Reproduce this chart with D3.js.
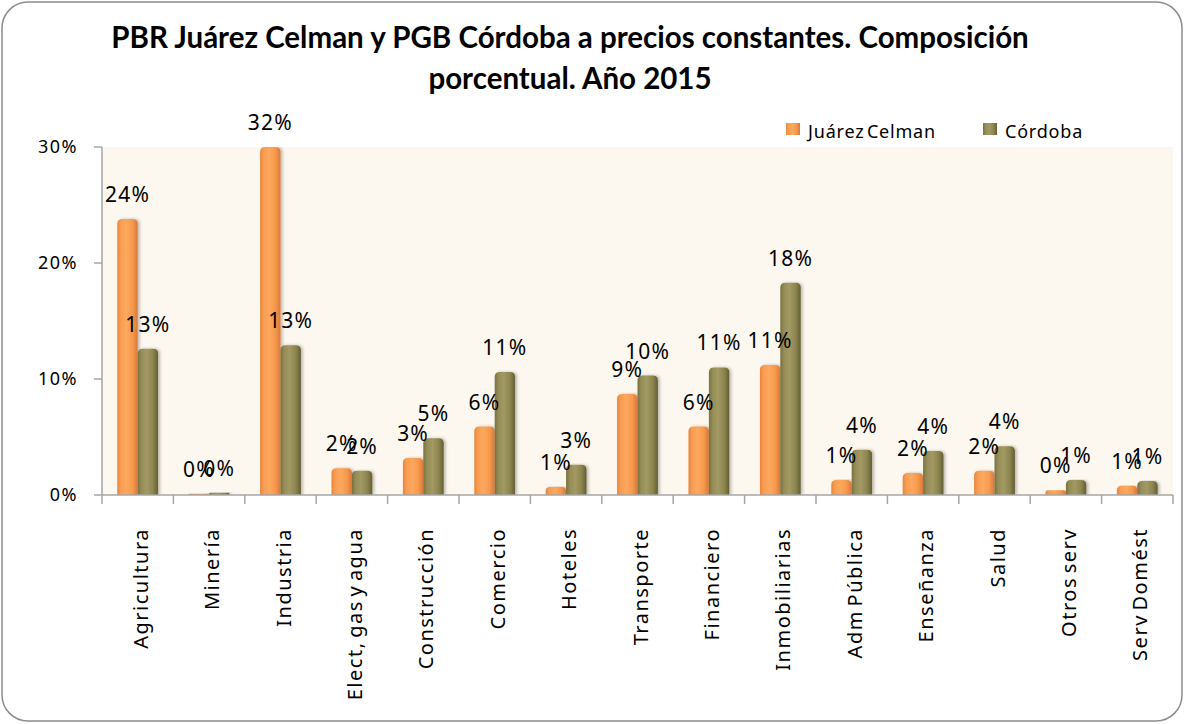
<!DOCTYPE html>
<html>
<head>
<meta charset="utf-8">
<script src="https://cdn.jsdelivr.net/npm/d3@7"></script>
<style>
  body { margin: 0; background: #fff; }
  svg { display: block; }
</style>
</head>
<body>
<div id="chart"></div>
<script>
// Datos del gráfico
const categorias = ["Agricultura", "Minería", "Industria", "Elect, gas y agua", "Construcción",
  "Comercio", "Hoteles", "Transporte", "Financiero", "Inmobiliarias", "Adm Pública",
  "Enseñanza", "Salud", "Otros serv", "Serv Domést"];
const series = ["Juárez Celman", "Córdoba"];
const juarezCelman = [23.8, 0.1, 32.0, 2.3, 3.2, 5.9, 0.7, 8.7, 5.9, 11.2, 1.3, 1.9, 2.1, 0.4, 0.8];
const cordoba = [12.6, 0.2, 12.9, 2.1, 4.9, 10.6, 2.6, 10.3, 11.0, 18.3, 3.9, 3.8, 4.2, 1.3, 1.2];
const ticksY = [0, 10, 20, 30];

const width = 1184;
const height = 724;
const plot = { left: 102, right: 1173, top: 147, bottom: 495 };

const svg = d3.select("#chart")
  .append("svg")
  .attr("width", width)
  .attr("height", height);

const defs = svg.append("defs");

// Gradientes para simular las columnas cilíndricas de Excel
function gradiente(id, stops) {
  const g = defs.append("linearGradient")
    .attr("id", id)
    .attr("x1", "0%").attr("x2", "100%")
    .attr("y1", "0%").attr("y2", "0%");
  stops.forEach(s => g.append("stop").attr("offset", s[0]).attr("stop-color", s[1]));
}
gradiente("gradNaranja", [["0%", "#e8843b"], ["18%", "#f99d52"], ["45%", "#fca85e"], ["75%", "#f6994c"], ["100%", "#d9783a"]]);
gradiente("gradOliva", [["0%", "#77713f"], ["18%", "#958d57"], ["45%", "#a29963"], ["75%", "#8c854f"], ["100%", "#635e33"]]);
const colores = { "Juárez Celman": "url(#gradNaranja)", "Córdoba": "url(#gradOliva)" };

// Sombra suave a la derecha de cada columna
const sombra = defs.append("filter").attr("id", "sombra")
  .attr("x", "-20%").attr("y", "-5%").attr("width", "150%").attr("height", "110%");
sombra.append("feDropShadow")
  .attr("dx", 2).attr("dy", 0)
  .attr("stdDeviation", 1.5)
  .attr("flood-color", "#000")
  .attr("flood-opacity", 0.25);

defs.append("clipPath").attr("id", "recorte")
  .append("rect")
  .attr("x", plot.left).attr("y", plot.top)
  .attr("width", plot.right - plot.left).attr("height", plot.bottom - plot.top);

// Borde del gráfico
svg.append("rect")
  .attr("x", 2).attr("y", 2)
  .attr("width", 1180).attr("height", 719)
  .attr("rx", 26)
  .attr("fill", "#fff")
  .attr("stroke", "#8c8c8c")
  .attr("stroke-width", 1.5);

// Área de trazado
svg.append("rect")
  .attr("x", plot.left).attr("y", plot.top)
  .attr("width", plot.right - plot.left).attr("height", plot.bottom - plot.top)
  .attr("fill", "#fdf8ef");

// Escalas
const x0 = d3.scaleBand().domain(categorias).range([plot.left, plot.right]);
const x1 = d3.scaleBand().domain(series).range([0, x0.bandwidth()]).paddingInner(0).paddingOuter(0.75);
const y = d3.scaleLinear().domain([0, 30]).range([plot.bottom, plot.top]);

const datos = categorias.map((c, i) => ({
  categoria: c,
  valores: [
    { serie: "Juárez Celman", valor: juarezCelman[i] },
    { serie: "Córdoba", valor: cordoba[i] }
  ]
}));

// Columna con la parte superior redondeada
function columna(x, yTop, w, base) {
  const r = Math.min(5, (base - yTop) / 2, w / 2);
  return `M${x},${base} L${x},${yTop + r} Q${x},${yTop} ${x + r},${yTop} L${x + w - r},${yTop} Q${x + w},${yTop} ${x + w},${yTop + r} L${x + w},${base} Z`;
}

const grupos = svg.append("g")
  .attr("clip-path", "url(#recorte)")
  .selectAll("g")
  .data(datos)
  .enter().append("g")
  .attr("transform", d => `translate(${x0(d.categoria)},0)`);

grupos.selectAll("path")
  .data(d => d.valores)
  .enter().append("path")
  .attr("d", d => columna(x1(d.serie), y(Math.min(d.valor, 30)), x1.bandwidth(), plot.bottom))
  .attr("fill", d => colores[d.serie])
  .attr("filter", "url(#sombra)");

// Ejes
const ejes = svg.append("g").attr("stroke", "#a6a6a6").attr("stroke-width", 1.5);
ejes.append("line")
  .attr("x1", plot.left).attr("x2", plot.left)
  .attr("y1", plot.top).attr("y2", plot.bottom);
ejes.append("line")
  .attr("x1", plot.left).attr("x2", plot.right)
  .attr("y1", plot.bottom).attr("y2", plot.bottom);
ejes.selectAll(".ty")
  .data(ticksY)
  .enter().append("line")
  .attr("x1", plot.left - 8).attr("x2", plot.left)
  .attr("y1", d => y(d)).attr("y2", d => y(d));
ejes.selectAll(".tx")
  .data(categorias.map(c => x0(c)).concat([plot.right]))
  .enter().append("line")
  .attr("x1", d => d).attr("x2", d => d)
  .attr("y1", plot.bottom).attr("y2", plot.bottom + 9);

// Etiquetas del eje Y
svg.selectAll(".etY")
  .data(ticksY)
  .enter().append("text")
  .attr("x", 78)
  .attr("y", d => y(d))
  .attr("dy", "0.35em")
  .attr("text-anchor", "end")
  .attr("font-family", "Noto Sans")
  .attr("font-size", 18)
  .attr("letter-spacing", 1.5)
  .attr("fill", "#000")
  .text(d => d + "%");

// Etiquetas de categorías (verticales)
svg.selectAll(".etX")
  .data(categorias)
  .enter().append("text")
  .attr("transform", d => `translate(${x0(d) + x0.bandwidth() / 2 + 3},528) rotate(-90)`)
  .attr("dy", "0.35em")
  .attr("text-anchor", "end")
  .attr("font-family", "Noto Sans")
  .attr("font-size", 20)
  .attr("letter-spacing", 1.5)
  .attr("word-spacing", -3)
  .attr("fill", "#000")
  .text(d => d);

// Etiquetas de datos
const formato = d3.format(".0f");
grupos.each(function(d) {
  d3.select(svg.node()).append("g")
    .attr("transform", `translate(${x0(d.categoria)},0)`)
    .selectAll("text")
    .data(d.valores)
    .enter().append("text")
    .attr("x", v => x1(v.serie) + x1.bandwidth() / 2)
    .attr("y", v => y(Math.min(v.valor, 30)) - 17)
    .attr("text-anchor", "middle")
    .attr("font-family", "Noto Sans")
    .attr("font-size", 21)
    .attr("letter-spacing", 1.2)
    .attr("fill", "#000")
    .text(v => formato(v.valor) + "%");
});

// Título
const titulo = svg.append("text")
  .attr("x", 570)
  .attr("text-anchor", "middle")
  .attr("font-family", "Lato")
  .attr("font-weight", "bold")
  .attr("font-size", 29.5)
  .attr("fill", "#000");
titulo.append("tspan").attr("x", 570).attr("y", 48).text("PBR Juárez Celman y PGB Córdoba a precios constantes. Composición");
titulo.append("tspan").attr("x", 570).attr("y", 89).text("porcentual. Año 2015");

// Leyenda
const leyenda = svg.append("g")
  .selectAll("g")
  .data(series)
  .enter().append("g")
  .attr("transform", (d, i) => `translate(${[786, 983][i]},123)`);
leyenda.append("rect")
  .attr("width", 14).attr("height", 12)
  .attr("fill", d => colores[d]);
leyenda.append("text")
  .attr("x", 22).attr("y", 15)
  .attr("font-family", "Noto Sans")
  .attr("font-size", 18)
  .attr("letter-spacing", 0.8)
  .attr("word-spacing", -3)
  .attr("fill", "#000")
  .text(d => d);
</script>
</body>
</html>
